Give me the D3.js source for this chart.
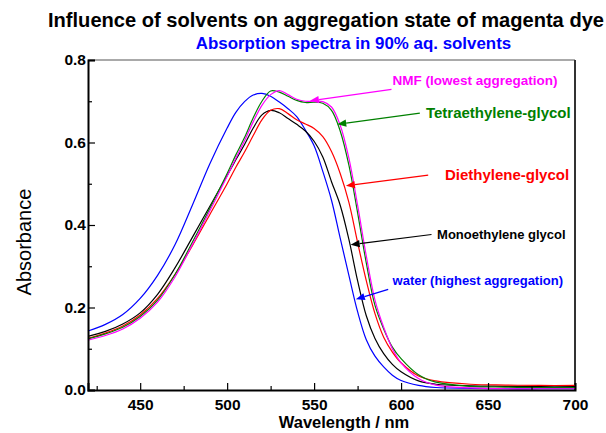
<!DOCTYPE html>
<html><head><meta charset="utf-8">
<script src="https://cdn.jsdelivr.net/npm/d3@7"></script>
<style>body{margin:0;background:#fff} text{font-family:"Liberation Sans",Arial,Helvetica,sans-serif}</style>
</head><body><svg id="c" width="606" height="433"></svg>
<script>
// ---------- data ----------
const wavelengths = [420,430,440,450,460,470,480,490,500,505,510,515,520,525,530,535,540,545,550,555,560,565,570,575,580,585,590,595,600,610,620,640,660,680,700];
const water = [0.143,0.159,0.183,0.222,0.278,0.352,0.448,0.548,0.635,0.673,0.699,0.715,0.719,0.712,0.698,0.682,0.663,0.63,0.592,0.53,0.46,0.368,0.278,0.19,0.122,0.082,0.056,0.036,0.023,0.011,0.006,0.004,0.003,0.003,0.003];
const monoethylene = [0.13,0.142,0.16,0.187,0.232,0.296,0.37,0.445,0.52,0.558,0.595,0.635,0.667,0.678,0.672,0.658,0.644,0.628,0.603,0.565,0.505,0.448,0.365,0.265,0.18,0.125,0.088,0.062,0.044,0.022,0.014,0.01,0.009,0.008,0.008];
const diethylene = [0.125,0.138,0.155,0.182,0.222,0.28,0.35,0.425,0.5,0.54,0.577,0.617,0.655,0.678,0.682,0.67,0.655,0.645,0.634,0.614,0.578,0.525,0.455,0.358,0.265,0.185,0.128,0.092,0.066,0.034,0.022,0.014,0.012,0.011,0.011];
const tetraethylene = [0.124,0.136,0.152,0.178,0.218,0.28,0.358,0.44,0.525,0.57,0.612,0.66,0.7,0.725,0.722,0.712,0.702,0.697,0.698,0.695,0.678,0.628,0.545,0.43,0.308,0.205,0.148,0.104,0.076,0.037,0.019,0.009,0.007,0.006,0.006];
const nmf = [0.121,0.132,0.148,0.174,0.213,0.274,0.352,0.434,0.518,0.562,0.604,0.65,0.69,0.716,0.726,0.716,0.705,0.7,0.7,0.699,0.686,0.642,0.562,0.448,0.325,0.218,0.152,0.1,0.066,0.028,0.012,0.005,0.003,0.003,0.003];
const seriesLabels = ["water (highest aggregation)","Monoethylene glycol","Diethylene-glycol","Tetraethylene-glycol","NMF (lowest aggregation)"];
const xMajorTicks = [450,500,550,600,650,700];
const xMinorTicks = [425,475,525,575,625,675];
const yMajorTicks = [0,0.2,0.4,0.6,0.8];
const yMinorTicks = [0.1,0.3,0.5,0.7];
// annotation anchors (data units: nm, absorbance)
const labelAnchors = [[595.1,0.255],[620.7,0.365],[625.2,0.509],[614.3,0.659],[595.1,0.739]];
const arrowTails  = [[592.6,0.244],[617.5,0.377],[615.6,0.521],[610.8,0.671],[594.5,0.729]];
const arrowTips   = [[574,0.22],[571,0.352],[568.3,0.495],[563.3,0.644],[547.6,0.701]];
const titleText = "Influence of solvents on aggregation state of magenta dye";
const subtitleText = "Absorption spectra in 90% aq. solvents";

// ---------- styles ----------
const colors = ["#0000ff","#000000","#ff0000","#008000","#ff00ff"];
const labelSizes = [13,13,15,15,13.5];
const M = {left:88, right:575, top:60, bottom:390};

const svg = d3.select("#c");
const x = d3.scaleLinear().domain([420,700]).range([M.left,M.right]);
const y = d3.scaleLinear().domain([0,0.8]).range([M.bottom,M.top]);

// frame (top/right)
svg.append("line").attr("x1",M.left).attr("x2",M.right).attr("y1",M.top).attr("y2",M.top).attr("stroke","#555").attr("stroke-width",1);
svg.append("line").attr("x1",M.right).attr("x2",M.right).attr("y1",M.top).attr("y2",M.bottom).attr("stroke","#333").attr("stroke-width",2);

// curves
const series = [water, monoethylene, diethylene, tetraethylene, nmf];
const line = d3.line().x(d=>x(d[0])).y(d=>y(d[1])).curve(d3.curveCatmullRom.alpha(0.5));
series.forEach((s,i)=>{
  svg.append("path").datum(wavelengths.map((w,j)=>[w,s[j]]))
    .attr("d",line).attr("fill","none").attr("stroke",colors[i]).attr("stroke-width",1.2);
});

// axes
const gx = svg.append("g").attr("transform",`translate(0,${M.bottom})`)
  .call(d3.axisBottom(x).tickValues(xMajorTicks).tickSize(-7).tickPadding(9).tickFormat(d3.format("d")));
svg.append("g").attr("transform",`translate(0,${M.bottom})`)
  .call(d3.axisBottom(x).tickValues(xMinorTicks).tickSize(-4).tickFormat(""))
  .call(g=>g.select(".domain").remove());
const gy = svg.append("g").attr("transform",`translate(${M.left},0)`)
  .call(d3.axisLeft(y).tickValues(yMajorTicks).tickSize(-7).tickPadding(2).tickFormat(d3.format(".1f")));
svg.append("g").attr("transform",`translate(${M.left},0)`)
  .call(d3.axisLeft(y).tickValues(yMinorTicks).tickSize(-4).tickFormat(""))
  .call(g=>g.select(".domain").remove());
svg.selectAll(".tick line").attr("stroke","#000").attr("stroke-width",1.2);
[gx,gy].forEach(g=>{
  g.select(".domain").attr("stroke","#000").attr("stroke-width",2);
  g.selectAll("text").attr("font-size","15.5px").attr("font-weight","bold").attr("fill","#000")
   .style("font-family",'"Liberation Sans",Arial,sans-serif');
});

// axis titles
svg.append("text").attr("x",344).attr("y",428).attr("text-anchor","middle")
  .attr("font-size","16.5px").attr("font-weight","bold").text("Wavelength / nm");
svg.append("text").attr("transform","translate(31,242) rotate(-90)").attr("text-anchor","middle")
  .attr("font-size","20px").text("Absorbance");

// titles
svg.append("text").attr("x",326).attr("y",27).attr("text-anchor","middle")
  .attr("font-size","20.1px").attr("font-weight","bold").attr("fill","#000").text(titleText);
svg.append("text").attr("x",353.5).attr("y",49).attr("text-anchor","middle")
  .attr("font-size","16.9px").attr("font-weight","bold").attr("fill","#0000ff").text(subtitleText);

// annotations
seriesLabels.forEach((lab,i)=>{
  const t0=[x(arrowTails[i][0]),y(arrowTails[i][1])], t1=[x(arrowTips[i][0]),y(arrowTips[i][1])];
  const dx=t1[0]-t0[0], dy=t1[1]-t0[1], L=Math.hypot(dx,dy), ux=dx/L, uy=dy/L;
  const hl=9, hw=3.6;
  const bx=t1[0]-ux*hl, by=t1[1]-uy*hl;
  svg.append("line").attr("x1",t0[0]).attr("y1",t0[1]).attr("x2",bx).attr("y2",by)
    .attr("stroke",colors[i]).attr("stroke-width",1.2);
  svg.append("path").attr("d",`M${t1[0]},${t1[1]}L${bx-uy*hw},${by+ux*hw}L${bx+uy*hw},${by-ux*hw}Z`)
    .attr("fill",colors[i]);
  svg.append("text").attr("x",x(labelAnchors[i][0])).attr("y",y(labelAnchors[i][1]))
    .attr("font-size",labelSizes[i]+"px").attr("font-weight","bold").attr("fill",colors[i]).text(lab);
});
</script></body></html>
